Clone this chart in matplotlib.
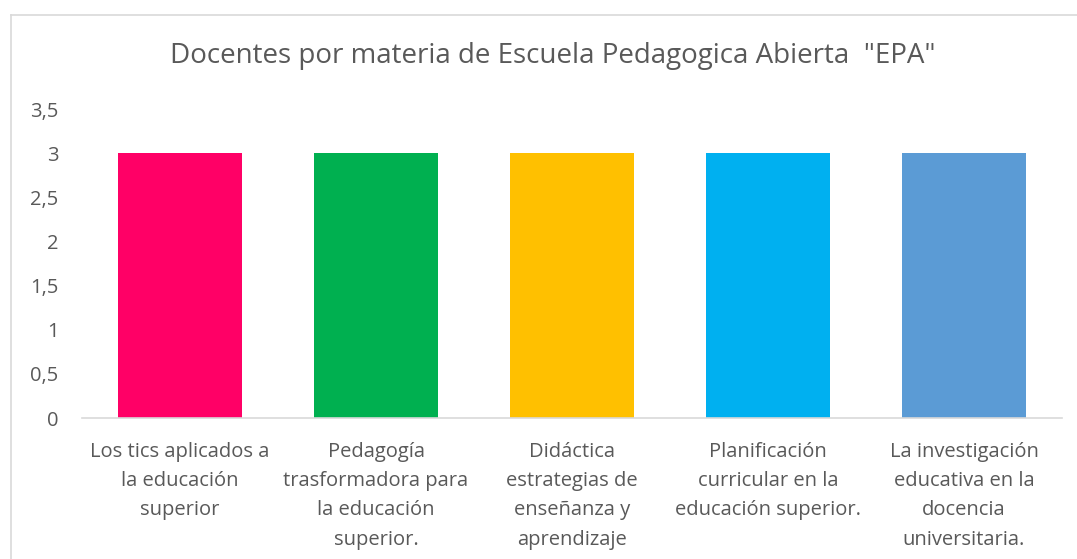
import matplotlib
matplotlib.use("Agg")
from matplotlib import pyplot as plt
from matplotlib.lines import Line2D

categorias = [
    "Los tics aplicados a\nla educación\nsuperior",
    "Pedagogía\ntrasformadora para\nla educación\nsuperior.",
    "Didáctica\nestrategias de\nenseñanza y\naprendizaje",
    "Planificación\ncurricular en la\neducación superior.",
    "La investigación\neducativa en la\ndocencia\nuniversitaria.",
]
docentes = [3, 3, 3, 3, 3]
colores = ["#FF0066", "#00B050", "#FFC000", "#00B0F0", "#5B9BD5"]
yticks = [0, 0.5, 1, 1.5, 2, 2.5, 3, 3.5]
ytick_labels = ["0", "0,5", "1", "1,5", "2", "2,5", "3", "3,5"]
titulo = 'Docentes por materia de Escuela Pedagogica Abierta  "EPA"'

plt.rcParams['font.family'] = ['Open Sans', 'DejaVu Sans']
gris = "#595959"

fig = plt.figure(figsize=(10.77, 5.59), dpi=100)
W, H = 1077, 559
# plot area in pixels: left 82, right 1062, top 109, bottom 418
ax = fig.add_axes([82 / W, 1 - 418 / H, 980 / W, 309 / H])

x = list(range(len(categorias)))
ax.bar(x, docentes, width=0.63, color=colores)
ax.set_xlim(-0.5, len(categorias) - 0.5)
ax.set_ylim(0, 3.5)
ax.set_yticks(yticks)
ax.set_yticklabels(ytick_labels, color=gris, fontsize=14.5)
ax.set_xticks(x)
ax.set_xticklabels(categorias, color=gris, fontsize=14.5, linespacing=1.62, va="top")
ax.tick_params(axis="both", length=0)
ax.tick_params(axis="x", pad=17)
ax.tick_params(axis="y", pad=17)
for s in ["top", "right", "left"]:
    ax.spines[s].set_visible(False)
ax.spines["bottom"].set_color("#D9D9D9")
ax.spines["bottom"].set_linewidth(1.2)

fig.text(553 / W, 1 - 56 / H, titulo, ha="center", va="center", fontsize=20, color=gris)

# outer chart border (top and left visible)
fig.add_artist(Line2D([11 / W, 1], [1 - 15 / H, 1 - 15 / H], color="#D9D9D9", lw=1.2))
fig.add_artist(Line2D([11 / W, 11 / W], [0, 1 - 15 / H], color="#D9D9D9", lw=1.2))

fig.savefig("out.png", dpi=100)
